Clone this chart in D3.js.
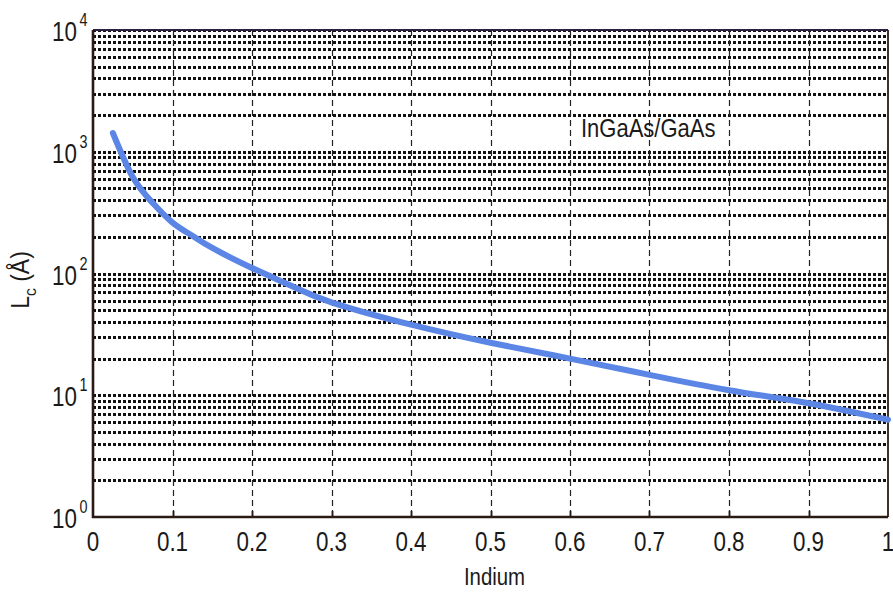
<!DOCTYPE html>
<html>
<head>
<meta charset="utf-8">
<script src="https://cdn.jsdelivr.net/npm/d3@7"></script>
<style>
  html, body { margin: 0; padding: 0; background: #fff; }
  svg { display: block; }
  text { font-family: "Liberation Sans", Arial, sans-serif; fill: #1a1a1a; }
</style>
</head>
<body>
<svg id="chart" width="893" height="593"></svg>
<script>
// Critical thickness of InGaAs on GaAs versus indium fraction
const indium   = [0.025, 0.05, 0.075, 0.1, 0.125, 0.15, 0.2, 0.25, 0.3, 0.4, 0.5, 0.6, 0.7, 0.8, 0.9, 1.0];
const lcValues = [1426, 620, 380, 262, 204, 162, 111, 79, 58, 38, 27, 20, 14.7, 11.0, 8.6, 6.3];

const xTicks = [0, 0.1, 0.2, 0.3, 0.4, 0.5, 0.6, 0.7, 0.8, 0.9, 1];
const xTickLabels = ["0", "0.1", "0.2", "0.3", "0.4", "0.5", "0.6", "0.7", "0.8", "0.9", "1"];
const yDecades = [0, 1, 2, 3, 4];
const seriesLabel = "InGaAs/GaAs";
const xTitle = "Indium";

const svg = d3.select("#chart");
const plotLeft = 93, plotRight = 888, plotTop = 30, plotBottom = 517;

const x = d3.scaleLinear().domain([0, 1]).range([plotLeft, plotRight]);
const y = d3.scaleLog().domain([1, 1e4]).range([plotBottom, plotTop]);

// horizontal grid: 2..10 in every decade
const gridVals = [];
for (let d = 0; d < 4; d++) {
  for (let k = 2; k <= 10; k++) gridVals.push(k * Math.pow(10, d));
}

const grid = svg.append("g");
grid.selectAll("line.h").data(gridVals).join("line")
  .attr("class", "h")
  .attr("x1", plotLeft).attr("x2", plotRight)
  .attr("y1", d => Math.round(y(d)) + 0.5).attr("y2", d => Math.round(y(d)) + 0.5)
  .attr("stroke", "#111")
  .attr("stroke-width", 3)
  .attr("stroke-dasharray", "3,2")
  .attr("shape-rendering", "crispEdges");

// vertical dashed grid
grid.selectAll("line.v").data(xTicks.slice(1, -1)).join("line")
  .attr("class", "v")
  .attr("x1", d => Math.round(x(d)) + 0.5).attr("x2", d => Math.round(x(d)) + 0.5)
  .attr("y1", plotTop).attr("y2", plotBottom)
  .attr("stroke", "#222")
  .attr("stroke-width", 1.2)
  .attr("stroke-dasharray", "6,4");

// inward tick marks on the bottom axis
svg.append("g").selectAll("line").data(xTicks.slice(1, -1)).join("line")
  .attr("x1", d => Math.round(x(d)) + 0.5).attr("x2", d => Math.round(x(d)) + 0.5)
  .attr("y1", plotBottom).attr("y2", plotBottom - 6)
  .attr("stroke", "#2a1a14").attr("stroke-width", 1.8);

// frame
svg.append("line").attr("x1", plotLeft).attr("x2", plotRight).attr("y1", plotTop).attr("y2", plotTop)
  .attr("stroke", "#2a2040").attr("stroke-width", 1.8);
svg.append("line").attr("x1", plotRight).attr("x2", plotRight).attr("y1", plotTop).attr("y2", plotBottom)
  .attr("stroke", "#2a1a14").attr("stroke-width", 1.8);
svg.append("line").attr("x1", plotLeft).attr("x2", plotLeft).attr("y1", plotTop).attr("y2", plotBottom + 1)
  .attr("stroke", "#2a1a14").attr("stroke-width", 2.6);
svg.append("line").attr("x1", plotLeft - 1).attr("x2", plotRight).attr("y1", plotBottom).attr("y2", plotBottom)
  .attr("stroke", "#2a1a14").attr("stroke-width", 2.6);

// curve
const line = d3.line()
  .x((d, i) => x(indium[i]))
  .y(d => y(d))
  .curve(d3.curveNatural);
svg.append("path")
  .datum(lcValues)
  .attr("d", line)
  .attr("fill", "none")
  .attr("stroke", "#5b86e6")
  .attr("stroke-width", 6)
  .attr("stroke-linecap", "round");

// x tick labels
const sx = 0.8;
svg.append("g").selectAll("text").data(xTicks).join("text")
  .attr("transform", d => `translate(${x(d)},551) scale(${sx},1)`)
  .attr("text-anchor", "middle")
  .attr("font-size", 28)
  .text((d, i) => xTickLabels[i]);

// y tick labels: 10^n
const yl = svg.append("g").selectAll("g").data(yDecades).join("g")
  .attr("transform", d => `translate(77,${y(Math.pow(10, d)) + 11})`);
yl.append("text")
  .attr("transform", `scale(${sx},1)`)
  .attr("text-anchor", "end")
  .attr("font-size", 28)
  .text("10");
yl.append("text")
  .attr("x", 3).attr("y", -15)
  .attr("transform", `scale(${sx},1)`)
  .attr("font-size", 18)
  .text(d => d);

// axis titles
svg.append("text")
  .attr("transform", `translate(${(plotLeft + plotRight) / 2 + 4},585) scale(0.85,1)`)
  .attr("text-anchor", "middle")
  .attr("font-size", 24)
  .text(xTitle);

const yt = svg.append("text")
  .attr("transform", "translate(29,280) rotate(-90) scale(0.92,1)")
  .attr("text-anchor", "middle")
  .attr("font-size", 25);
yt.append("tspan").text("L");
yt.append("tspan").attr("font-size", 17).attr("dy", 7).text("c");
yt.append("tspan").attr("dy", -7).text(" (Å)");

// series annotation
svg.append("text")
  .attr("transform", "translate(581,137) scale(0.88,1)")
  .attr("font-size", 25)
  .text(seriesLabel);
</script>
</body>
</html>
